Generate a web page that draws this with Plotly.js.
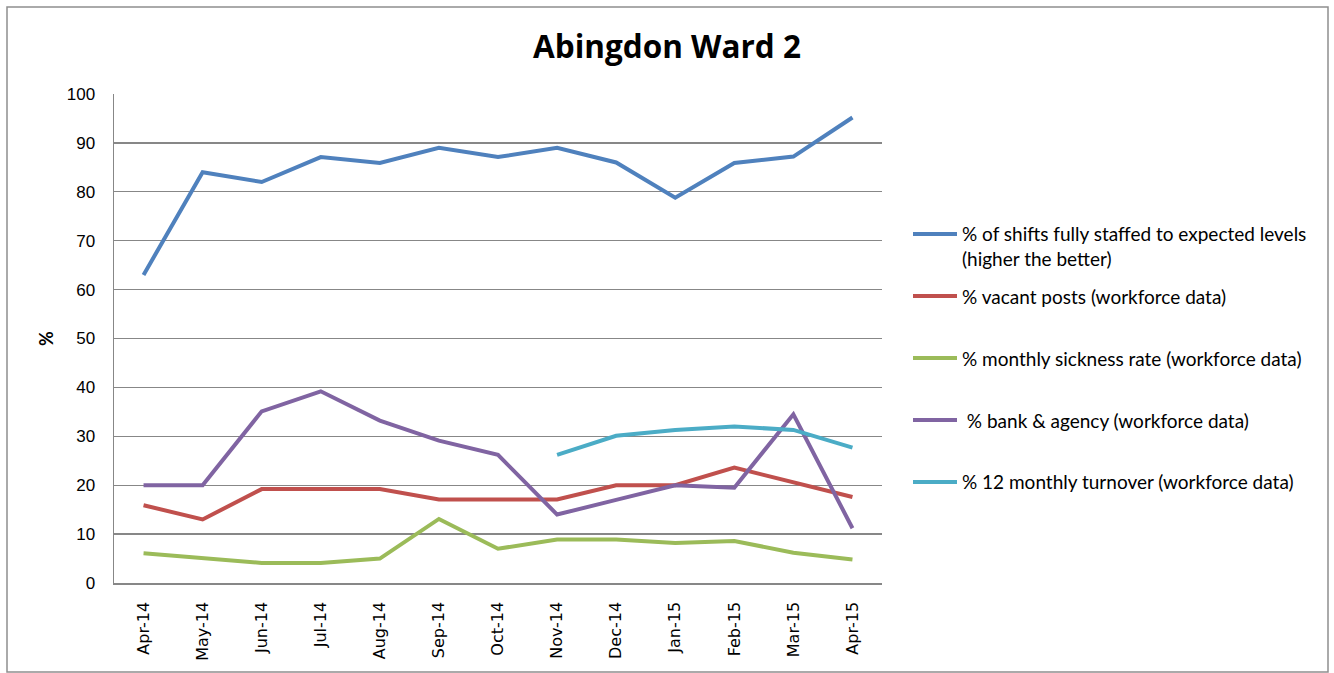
<!DOCTYPE html>
<html>
<head>
<meta charset="utf-8">
<script src="https://cdn.plot.ly/plotly-3.0.1.min.js"></script>
<style>html,body{margin:0;padding:0;background:#fff;}#chart{width:1334px;height:673px;}</style>
</head>
<body>
<div id="chart"></div>
<script>
var months = ["Apr-14","May-14","Jun-14","Jul-14","Aug-14","Sep-14","Oct-14","Nov-14","Dec-14","Jan-15","Feb-15","Mar-15","Apr-15"];
var shiftsStaffed = [63, 84, 82, 87.1, 85.9, 89, 87.1, 89, 86, 78.8, 85.9, 87.2, 95.2];
var vacantPosts = [15.9, 13, 19.2, 19.2, 19.2, 17.1, 17.1, 17.1, 20, 20, 23.6, 20.7, 17.6];
var sicknessRate = [6.1, 5.1, 4.1, 4.1, 5.0, 13.1, 7.0, 8.9, 8.9, 8.2, 8.6, 6.2, 4.8];
var bankAgency = [20, 20, 35.1, 39.2, 33.2, 29.1, 26.2, 14.0, 17.0, 20, 19.5, 34.5, 11.2];
var turnover = [null, null, null, null, null, null, null, 26.2, 30.1, 31.3, 32.0, 31.3, 27.7];

var seriesNames = [
  "% of shifts fully staffed to expected levels<br>(higher the better)",
  "% vacant posts (workforce data)",
  "% monthly sickness rate (workforce data)",
  " % bank & agency (workforce data)",
  "% 12 monthly turnover (workforce data)"
];
var seriesValues = [shiftsStaffed, vacantPosts, sicknessRate, bankAgency, turnover];
var seriesColors = ["#4F81BD", "#C0504D", "#9BBB59", "#8064A2", "#4BACC6"];

// layout geometry (pixels)
var W = 1334, H = 673;
var plotL = 114, plotR = 882, plotT = 94, plotB = 583;
var pw = plotR - plotL, ph = plotB - plotT;
function px(x){ return (x - plotL) / pw; }
function py(y){ return (plotB - y) / ph; }

var traces = seriesValues.map(function(v, i){
  return {
    x: months, y: v, type: "scatter", mode: "lines",
    name: seriesNames[i],
    line: {color: seriesColors[i], width: 4},
    connectgaps: false,
    showlegend: false,
    hoverinfo: "x+y"
  };
});

var legendY = [246, 296, 358, 420, 482];
var legendLineY = [234, 296, 358, 420, 482];
var shapes = [{
  type: "rect", xref: "paper", yref: "paper",
  x0: px(7), x1: px(1328), y0: py(672), y1: py(7),
  line: {color: "#8f8f8f", width: 1.5}, fillcolor: "rgba(0,0,0,0)", layer: "below"
}];
var annotations = [];
seriesNames.forEach(function(n, i){
  shapes.push({
    type: "line", xref: "paper", yref: "paper",
    x0: px(913), x1: px(957), y0: py(legendLineY[i]), y1: py(legendLineY[i]),
    line: {color: seriesColors[i], width: 4}
  });
  annotations.push({
    xref: "paper", yref: "paper", x: px(960), y: py(legendY[i]),
    xanchor: "left", yanchor: "middle", align: "left", showarrow: false,
    text: n, font: {family: "Lato, 'Open Sans', sans-serif", size: 19, color: "#000"}
  });
});

var layout = {
  width: W, height: H,
  margin: {l: plotL, r: W - plotR, t: plotT, b: H - plotB, pad: 0},
  paper_bgcolor: "#fff", plot_bgcolor: "#fff",
  showlegend: false,
  title: {
    text: "<b>Abingdon Ward 2</b>",
    font: {family: "'Open Sans', Lato, sans-serif", size: 31.5, color: "#000"},
    x: 0.5, xref: "container", xanchor: "center",
    y: 1 - 47 / H, yref: "container", yanchor: "middle"
  },
  xaxis: {
    type: "category",
    range: [-0.5, months.length - 0.5],
    showgrid: false, zeroline: false,
    showline: true, linecolor: "#878787", linewidth: 1.5,
    ticks: "", tickangle: -90,
    ticklabelstandoff: 11,
    tickfont: {family: "'DejaVu Sans', sans-serif", size: 16, color: "#000"},
    fixedrange: true
  },
  yaxis: {
    range: [0, 100], dtick: 10, tick0: 0,
    showgrid: true, gridcolor: "#878787", gridwidth: 1.2,
    zeroline: false,
    showline: true, linecolor: "#878787", linewidth: 1.5,
    ticks: "", ticklabelstandoff: 14,
    tickfont: {family: "'Liberation Sans', Arial, sans-serif", size: 17, color: "#000"},
    title: {text: "<b>%</b>", font: {family: "Lato, sans-serif", size: 18, color: "#000"}, standoff: 8},
    automargin: false,
    fixedrange: true
  },
  shapes: shapes,
  annotations: annotations
};

Plotly.newPlot("chart", traces, layout, {displayModeBar: false, staticPlot: true});
</script>
</body>
</html>
